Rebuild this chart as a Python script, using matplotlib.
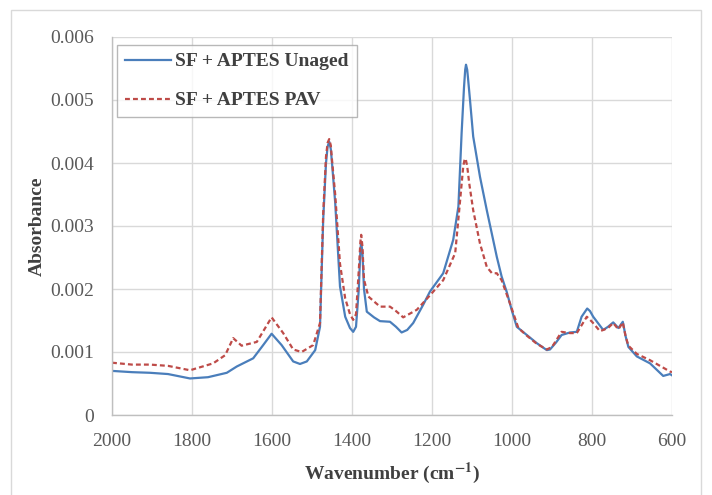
import matplotlib
matplotlib.use("Agg")
import matplotlib.pyplot as plt
from matplotlib.patches import Rectangle

plt.rcParams['font.family'] = ['Liberation Serif', 'DejaVu Serif']
plt.rcParams['mathtext.fontset'] = 'stix'

# Wavenumber (cm-1) and absorbance readings
unaged_x = [2000, 1950, 1905, 1860, 1805, 1760, 1713, 1688, 1647, 1622, 1601, 1576, 1547,
            1530, 1513, 1492, 1480, 1472, 1465, 1461, 1457, 1453, 1450, 1442, 1430, 1417,
            1405, 1397, 1390, 1383, 1379, 1377, 1374, 1370, 1363, 1345, 1330, 1305, 1290,
            1276, 1262, 1247, 1222, 1205, 1172, 1147, 1134, 1126, 1120, 1117, 1115, 1112,
            1110, 1105, 1097, 1080, 1063, 1038, 1026, 1013, 1000, 988, 963, 938, 913, 905,
            890, 876, 855, 838, 826, 812, 805, 797, 772, 760, 747, 734, 723, 716, 709, 688,
            655, 622, 605, 600]
unaged_y = [0.00070, 0.00068, 0.00067, 0.00065, 0.00058, 0.00060, 0.00067, 0.00077, 0.00090,
            0.00111, 0.00129, 0.00111, 0.00085, 0.00081, 0.00085, 0.00103, 0.00140, 0.00310,
            0.00400, 0.00426, 0.00434, 0.00422, 0.00400, 0.00337, 0.00204, 0.00156, 0.00138,
            0.00132, 0.00140, 0.00200, 0.00262, 0.00275, 0.00258, 0.00200, 0.00164, 0.00155,
            0.00149, 0.00148, 0.00140, 0.00131, 0.00135, 0.00146, 0.00175, 0.00196, 0.00225,
            0.00278, 0.00331, 0.00447, 0.00520, 0.00548, 0.00556, 0.00548, 0.00535, 0.00500,
            0.00442, 0.00378, 0.00325, 0.00251, 0.00220, 0.00195, 0.00165, 0.00140, 0.00127,
            0.00114, 0.00103, 0.00104, 0.00115, 0.00127, 0.00131, 0.00132, 0.00156, 0.00169,
            0.00165, 0.00156, 0.00135, 0.00140, 0.00147, 0.00138, 0.00148, 0.00125, 0.00108,
            0.00093, 0.00082, 0.00062, 0.00065, 0.00063]

pav_x = [2000, 1950, 1905, 1860, 1805, 1747, 1717, 1697, 1676, 1638, 1601, 1572, 1547,
         1526, 1497, 1480, 1472, 1465, 1461, 1457, 1453, 1450, 1442, 1430, 1417, 1405,
         1397, 1390, 1383, 1379, 1377, 1374, 1370, 1359, 1330, 1305, 1290, 1272, 1238,
         1205, 1172, 1142, 1132, 1122, 1119, 1116, 1112, 1107, 1097, 1080, 1063, 1050,
         1038, 1026, 1005, 984, 963, 938, 913, 900, 876, 855, 838, 813, 800, 780, 760,
         747, 734, 723, 716, 709, 688, 655, 605, 600]
pav_y = [0.00083, 0.00080, 0.00080, 0.00078, 0.00071, 0.00082, 0.00095, 0.00122, 0.00110,
         0.00116, 0.00155, 0.00130, 0.00104, 0.00100, 0.00111, 0.00146, 0.00320, 0.00410,
         0.00432, 0.00438, 0.00428, 0.00405, 0.00350, 0.00240, 0.00185, 0.00160, 0.00151,
         0.00160, 0.00230, 0.00275, 0.00286, 0.00268, 0.00215, 0.00188, 0.00172, 0.00172,
         0.00165, 0.00155, 0.00167, 0.00190, 0.00214, 0.00257, 0.00325, 0.00394, 0.00404,
         0.00407, 0.00395, 0.00368, 0.00325, 0.00272, 0.00235, 0.00225, 0.00225, 0.00214,
         0.00177, 0.00138, 0.00126, 0.00113, 0.00104, 0.00108, 0.00132, 0.00130, 0.00130,
         0.00156, 0.00148, 0.00133, 0.00138, 0.00146, 0.00136, 0.00147, 0.00125, 0.00110,
         0.00097, 0.00087, 0.00069, 0.00068]

x_ticks = [2000, 1800, 1600, 1400, 1200, 1000, 800, 600]
y_ticks = [0, 0.001, 0.002, 0.003, 0.004, 0.005, 0.006]
y_tick_labels = ['0', '0.001', '0.002', '0.003', '0.004', '0.005', '0.006']

fig = plt.figure(figsize=(7.12, 4.95), dpi=100)
fig.patches.append(Rectangle((11 / 712, -0.01), (701 - 11) / 712, (485 + 5) / 495,
                             transform=fig.transFigure, fill=False,
                             edgecolor='#d9d9d9', linewidth=1.0))
ax = fig.add_axes([112 / 712, 80 / 495, 560 / 712, 378 / 495])

ax.plot(unaged_x, unaged_y, color='#4a7ebb', linewidth=1.6, label='SF + APTES Unaged')
ax.plot(pav_x, pav_y, color='#be4b48', linewidth=1.6, linestyle=(0, (2.2, 1.4)),
        label='SF + APTES PAV')

ax.set_xlim(2000, 600)
ax.set_ylim(0, 0.006)
ax.set_xticks(x_ticks)
ax.set_xticklabels([str(t) for t in x_ticks])
ax.set_yticks(y_ticks)
ax.set_yticklabels(y_tick_labels)
ax.tick_params(axis='x', length=0, labelsize=14, colors='#595959', pad=13)
ax.tick_params(axis='y', length=0, labelsize=14, colors='#595959', pad=13)
ax.grid(True, color='#d9d9d9', linewidth=1.0)
ax.set_axisbelow(True)
for s in ['top', 'right']:
    ax.spines[s].set_visible(False)
for s in ['left', 'bottom']:
    ax.spines[s].set_color('#bfbfbf')
    ax.spines[s].set_linewidth(1.0)

ax.set_xlabel('Wavenumber (cm$^{\\mathbf{-1}}$)', fontsize=14, fontweight='bold',
              color='#404040', labelpad=8)
ax.set_ylabel('Absorbance', fontsize=14, fontweight='bold', color='#404040', labelpad=3)

leg = ax.legend(loc='upper left', bbox_to_anchor=(0.009, 0.979), borderaxespad=0,
                prop={'weight': 'bold', 'size': 14}, frameon=True, fancybox=False,
                edgecolor='#a6a6a6', handlelength=2.4, handletextpad=0.2,
                borderpad=0.4, labelspacing=1.1)
leg.get_frame().set_linewidth(1.0)
for t in leg.get_texts():
    t.set_color('#404040')

fig.savefig('out.png', dpi=100)
